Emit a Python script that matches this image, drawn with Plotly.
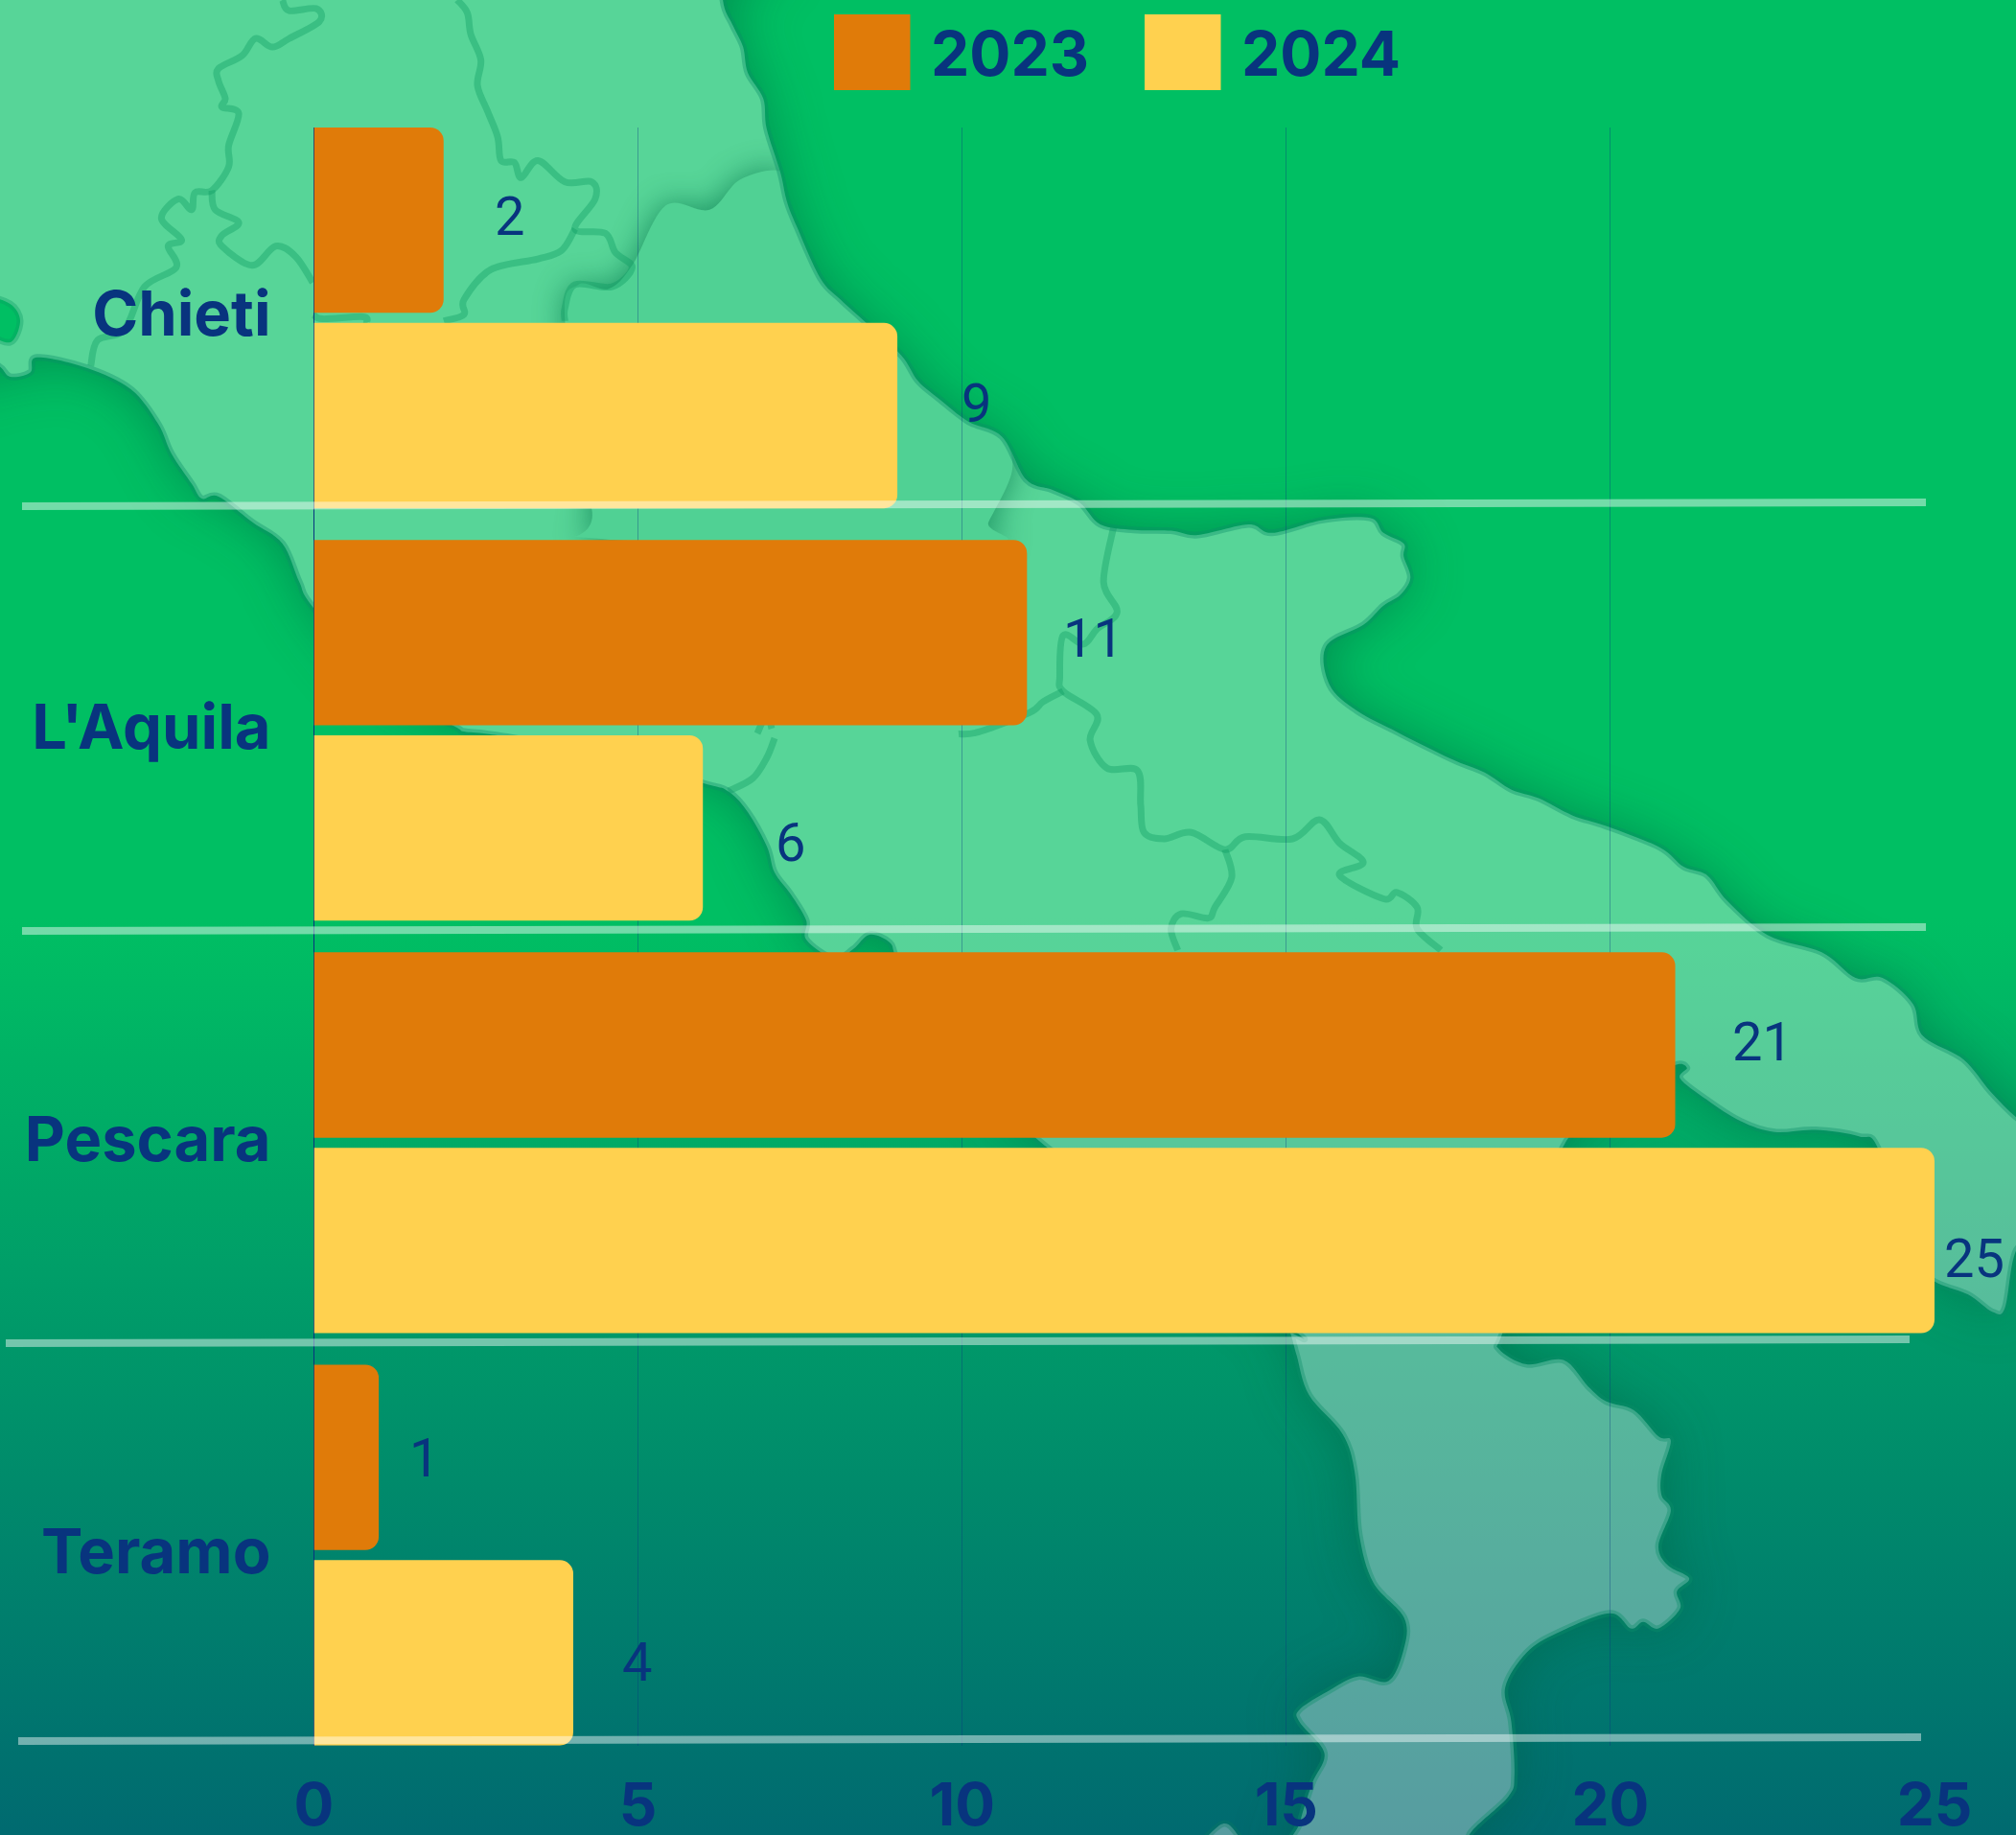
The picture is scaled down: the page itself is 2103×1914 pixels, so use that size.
import base64
import plotly.graph_objects as go

# ---- data ----
PROVINCES = ["Chieti", "L'Aquila", "Pescara", "Teramo"]
VALUES_2023 = [2, 11, 21, 1]
VALUES_2024 = [9, 6, 25, 4]
X_TICKS = [0, 5, 10, 15, 20, 25]
# hand-placed label nudges in the reference (px)
NUDGE_X_2023 = [69, 69, 91, 47]
NUDGE_Y_2023 = [4, -6, 3, -1]
NUDGE_X_2024 = [82, 91, 41, 67]
NUDGE_Y_2024 = [13, -15, -19, -10]

W, H = 2103, 1914
NAVY = "#08347E"
ORANGE = "#E07B09"
YELLOW = "#FFD14F"
FONT = "Inter"


def px(x, y):
    return x / W, 1 - y / H


def z1(pts):
    return [(x / 1.4255, y / 2.24) for x, y in pts]


def z2(pts):
    return [(1000 + x / 1.4216, 500 + y / 2.24) for x, y in pts]


def z3(pts):
    return [(1100 + x / 1.5633, 1200 + y / 2.196) for x, y in pts]


coast = (
    [(-60, -60), (754, -60)]
    + z1([(1075, 0), (1090, 60), (1105, 110), (1112, 170), (1135, 230), (1140, 300), (1160, 400), (1170, 470),
          (1185, 530), (1220, 650), (1250, 700), (1285, 750), (1340, 830), (1365, 890), (1395, 930), (1440, 985),
          (1490, 1020)])
    + z2([(100, 0), (140, 25), (180, 55), (210, 105), (260, 118), (315, 120), (355, 130), (430, 105), (465, 125),
          (540, 95), (610, 90), (630, 125), (660, 150), (660, 180), (670, 230), (655, 270), (630, 295), (600, 340),
          (545, 390), (550, 480), (590, 540), (650, 590), (700, 630), (740, 660), (780, 685), (820, 725), (860, 745),
          (910, 785), (960, 810), (1040, 860), (1075, 905), (1110, 925), (1140, 985), (1200, 1065), (1280, 1105),
          (1330, 1165), (1370, 1165), (1415, 1225), (1430, 1300), (1490, 1355), (1530, 1430), (1568, 1490)])
    + [(2130, 1185), (2130, 1285)]
    + z3([(1568, 230), (1550, 360), (1530, 370), (1490, 330), (1435, 300), (1400, 250)])
    + [(1960, 1200)]
    + z2([(1335, 1535), (1270, 1520), (1210, 1525), (1160, 1500), (1110, 1450), (1070, 1400), (1080, 1375), (1060, 1370)])
    + [(1700, 1140), (1634, 1190), (1600, 1300)]
    + z3([(730, 420), (725, 455), (770, 490), (830, 480), (870, 540), (900, 575), (945, 595), (985, 655), (1005, 665),
          (990, 740), (990, 790), (1005, 825), (985, 905), (1000, 950), (1035, 980), (1015, 1010), (1020, 1050),
          (985, 1095), (960, 1080), (940, 1095), (905, 1060), (820, 1105), (770, 1150), (735, 1230), (745, 1310),
          (750, 1430), (740, 1480), (680, 1560), (640, 1640),
          (385, 1640), (400, 1540), (420, 1450), (440, 1380), (400, 1310), (400, 1280), (450, 1235), (495, 1205),
          (545, 1215), (570, 1140), (570, 1070), (520, 990), (497, 880), (490, 740), (470, 650), (415, 560),
          (395, 470), (385, 420)])
    + [(1340, 1380), (1084, 1190), (960, 1060), (935, 1000), (928, 983), (907, 975), (890, 990), (870, 1000),
       (841, 980), (841, 960), (825, 933), (808, 910), (800, 883), (780, 847), (759, 825), (734, 817), (620, 785),
       (519, 767), (484, 763), (473, 757), (400, 720)]
    + z1([(466, 1420), (445, 1360), (420, 1270), (375, 1220), (325, 1160), (300, 1165), (285, 1130), (255, 1060),
          (235, 990), (195, 910), (130, 860), (55, 835), (45, 870), (15, 880), (-10, 850)])
    + [(-60, 380)]
)

borders = [
    z1([(420, 0), (430, 25), (470, 20), (475, 50), (430, 90), (405, 110), (380, 90), (360, 130), (325, 160), (325, 190),
        (335, 230), (330, 250), (355, 265), (340, 340), (340, 390), (315, 445), (290, 450), (285, 490), (265, 465),
        (240, 510), (270, 560), (250, 575), (262, 625), (215, 670), (185, 770), (145, 795), (135, 855)]),
    z1([(315, 445), (320, 490), (355, 520), (330, 550), (330, 575), (375, 620), (410, 575), (440, 600), (465, 660)]),
    z1([(680, 0), (695, 30), (700, 80), (715, 140), (710, 200), (725, 260), (740, 320), (745, 375), (765, 380),
        (775, 415), (800, 375), (840, 425), (880, 425), (885, 465), (855, 535), (900, 545), (915, 590), (940, 625),
        (910, 670), (855, 665), (840, 720), (840, 750)]),
    z1([(855, 535), (835, 585), (800, 605), (730, 630), (690, 700), (690, 735), (660, 750)]),
    z1([(466, 735), (480, 745), (540, 740), (545, 755)]),
    z2([(230, 110), (215, 240), (235, 310), (205, 350), (185, 385), (155, 365), (150, 460), (155, 495), (205, 550),
        (195, 610), (220, 675), (265, 680), (270, 760), (275, 825), (305, 840), (345, 825), (395, 865), (425, 835),
        (495, 840), (535, 795), (565, 850), (600, 895), (565, 925), (630, 980), (650, 965), (680, 1000), (680, 1050),
        (715, 1100)]),
    z2([(155, 495), (125, 520), (105, 545), (30, 590), (0, 595)]),
    z2([(395, 865), (405, 930), (380, 1000), (370, 1025), (330, 1015), (315, 1050), (325, 1100)]),
    [(760, 825), (785, 812), (800, 790), (808, 770)],
    [(805, 760), (800, 745), (790, 765)],
]

inner_region = (
    z1([(1160, 400), (1170, 470), (1185, 530), (1220, 650), (1250, 700), (1285, 750), (1340, 830), (1365, 890),
        (1395, 930), (1440, 985), (1490, 1020), (1505, 1100), (1470, 1220), (1455, 1270), (900, 1260), (880, 1190),
        (840, 750), (860, 665), (905, 675), (940, 620), (990, 480), (1055, 490), (1100, 420)])
)

lake = z1([(-20, 700), (15, 710), (30, 750), (15, 800), (-20, 770)])
sicily = z3([(220, 1640), (270, 1545), (300, 1570), (320, 1640)])


def d(pts, close=True, k=6.0):
    """Smooth path through the traced outline points."""
    n = len(pts)
    out = [f"M{pts[0][0]:.1f},{pts[0][1]:.1f}"]
    segs = n if close else n - 1
    for i in range(segs):
        if close:
            p0, p1, p2, p3 = pts[(i - 1) % n], pts[i], pts[(i + 1) % n], pts[(i + 2) % n]
        else:
            p0, p1, p2, p3 = pts[max(i - 1, 0)], pts[i], pts[i + 1], pts[min(i + 2, n - 1)]
        c1 = (p1[0] + (p2[0] - p0[0]) / k, p1[1] + (p2[1] - p0[1]) / k)
        c2 = (p2[0] - (p3[0] - p1[0]) / k, p2[1] - (p3[1] - p1[1]) / k)
        out.append(f"C{c1[0]:.1f},{c1[1]:.1f} {c2[0]:.1f},{c2[1]:.1f} {p2[0]:.1f},{p2[1]:.1f}")
    return " ".join(out) + (" Z" if close else "")


svg = f'''<svg xmlns="http://www.w3.org/2000/svg" width="{W}" height="{H}" viewBox="0 0 {W} {H}">
<defs>
<linearGradient id="bg" x1="0" y1="0" x2="0" y2="1">
<stop offset="0" stop-color="#00BF63"/><stop offset="0.5" stop-color="#00BF63"/><stop offset="1" stop-color="#006A70"/>
</linearGradient>
<filter id="blur" x="-20%" y="-20%" width="140%" height="140%"><feGaussianBlur stdDeviation="28"/></filter>
<filter id="blur2" x="-20%" y="-20%" width="140%" height="140%"><feGaussianBlur stdDeviation="16"/></filter>
<mask id="sea" maskUnits="userSpaceOnUse" x="0" y="0" width="{W}" height="{H}"><rect width="{W}" height="{H}" fill="white"/><path d="{d(coast)}" fill="black"/></mask>
<mask id="out" maskUnits="userSpaceOnUse" x="0" y="0" width="{W}" height="{H}"><rect width="{W}" height="{H}" fill="white"/><path d="{d(inner_region)}" fill="black"/></mask>
<clipPath id="landclip"><path d="{d(coast)}"/></clipPath>
</defs>
<rect width="{W}" height="{H}" fill="url(#bg)"/>
<g mask="url(#sea)"><path d="{d(coast)}" fill="#005f40" opacity="0.5" filter="url(#blur)"/></g>
<path d="{d(coast)}" fill="#ffffff" fill-opacity="0.34"/>
<path d="{d(sicily)}" fill="#ffffff" fill-opacity="0.34" stroke="#0a7a60" stroke-opacity="0.35" stroke-width="7"/>
<path d="{d(lake)}" fill="#00BF63" stroke="#0a9a62" stroke-opacity="0.35" stroke-width="7"/>
<g clip-path="url(#landclip)">
<g mask="url(#out)"><path d="{d(inner_region)}" fill="#007548" opacity="0.7" filter="url(#blur2)"/></g>
<path d="{d(inner_region)}" fill="#00a060" fill-opacity="0.07"/>
</g>
''' + "".join(
    f'<path d="{d(b, False)}" fill="none" stroke="#0a9a62" stroke-opacity="0.38" stroke-width="7" stroke-linejoin="round"/>'
    for b in borders
) + f'''<path d="{d(coast)}" fill="none" stroke="#0a8f68" stroke-opacity="0.38" stroke-width="7" stroke-linejoin="round"/>
</svg>'''
bg_uri = "data:image/svg+xml;base64," + base64.b64encode(svg.encode()).decode()

fig = go.Figure()
fig.add_trace(go.Bar(name="2023", y=PROVINCES, x=VALUES_2023, orientation="h",
                     marker=dict(color=ORANGE, cornerradius=14, line_width=0)))
fig.add_trace(go.Bar(name="2024", y=PROVINCES, x=VALUES_2024, orientation="h",
                     marker=dict(color=YELLOW, cornerradius=14, line_width=0)))

annotations = []
BAR_OFFSET = 0.2369
for i in range(len(PROVINCES)):
    for vals, nx, ny, off in ((VALUES_2023, NUDGE_X_2023, NUDGE_Y_2023, -BAR_OFFSET),
                              (VALUES_2024, NUDGE_X_2024, NUDGE_Y_2024, BAR_OFFSET)):
        annotations.append(dict(x=vals[i], y=i + off, xref="x", yref="y", text=str(vals[i]), showarrow=False,
                                xshift=nx[i], yshift=ny[i], font=dict(family="Roboto", size=56, color=NAVY)))

shapes = []
for x0, name, color in ((870, "2023", ORANGE), (1194, "2024", YELLOW)):
    a, b = px(x0, 15)
    c, e = px(x0 + 79.5, 94)
    shapes.append(dict(type="rect", xref="paper", yref="paper", x0=a, x1=c, y0=e, y1=b, fillcolor=color, line_width=0))
    tx, ty = px(x0 + 99, 55)
    annotations.append(dict(x=tx, y=ty, xref="paper", yref="paper", text=f"<b>{name}</b>", showarrow=False,
                            xanchor="left", yanchor="middle", font=dict(family=FONT, size=64, color=NAVY)))

for (x0, y0, x1, y1) in ((23, 528, 2009, 524), (23, 971, 2009, 967), (6, 1401, 1992, 1397), (19, 1816, 2004, 1812)):
    a, b = px(x0, y0)
    c, e = px(x1, y1)
    shapes.append(dict(type="line", xref="paper", yref="paper", x0=a, y0=b, x1=c, y1=e, layer="above",
                       line=dict(color="rgba(255,255,255,0.45)", width=8)))

fig.update_layout(
    width=W, height=H, margin=dict(l=0, r=0, t=0, b=0, pad=0, autoexpand=False),
    barmode="group", bargap=0.0523, bargroupgap=0.0515, showlegend=False,
    paper_bgcolor="#00BF63", plot_bgcolor="rgba(0,0,0,0)",
    annotations=annotations, shapes=shapes,
    images=[dict(source=bg_uri, xref="paper", yref="paper", x=0, y=1, sizex=1, sizey=1,
                 xanchor="left", yanchor="top", sizing="stretch", layer="below")],
    xaxis=dict(domain=[327.5 / W, 2018 / W], range=[0, 25], tickvals=X_TICKS, automargin=False,
               showgrid=True, gridcolor="rgba(10,52,130,0.35)", gridwidth=1,
               zeroline=True, zerolinecolor=NAVY, zerolinewidth=1, showline=False, ticks="",
               ticklabelstandoff=20, tickfont=dict(family=FONT, size=62, color=NAVY, weight=700)),
    yaxis=dict(domain=[1 - 1820.7 / H, 1 - 133 / H], range=[3.4617, -0.4617], type="category",
               categoryorder="array", categoryarray=PROVINCES, automargin=False, showgrid=False, zeroline=False,
               showline=False, ticks="", ticklabelstandoff=44,
               tickmode="array", tickvals=[i - 0.0093 for i in range(len(PROVINCES))], ticktext=PROVINCES,
               tickfont=dict(family=FONT, size=65, color=NAVY, weight=700)),
)

fig.write_html("out.html", config={"displayModeBar": False},
               post_script="document.body.style.margin='0';document.documentElement.style.overflow='hidden';")
